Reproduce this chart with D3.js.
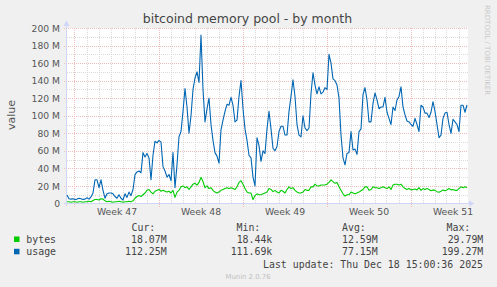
<!DOCTYPE html>
<html><head><meta charset="utf-8">
<script src="https://cdn.jsdelivr.net/npm/d3@7"></script>
<style>
html,body{margin:0;padding:0;background:#F0F0F0;}
svg{display:block;}
</style></head>
<body>
<script>
// ---- data (values in millions) ----
const title = "bitcoind memory pool - by month";
const yAxisLabel = "value";
const startTimeUTC = Date.UTC(2025, 10, 16, 9, 0); // first sample
const stepHours = 4;
const seriesNames = ["bytes", "usage"];
const seriesColors = ["#00CC00", "#0066B3"];
const bytes = [2,2,1.5,2,2,1.5,2,2,1.5,2,2,2.5,2,3.5,4.5,4.5,4,5.5,5,3,
  2,2.5,2,1.5,2,2,2.5,2,1.5,2,2,2.5,2,3,6,8,9,8,10,12,
  15,16,13,11,14,15,16,14,15,14,13,14,12,15,7,13,15,19,20,18,
  19,16,19,22,23,21,24,29.8,25,18,20,17,18,15,13,12,13,15,16,17,
  18,17,18,17,16,19,24,26,22,17,13,12,12,4.5,9,11,10,10,11,12,
  13,17,16,13.5,15,13,12,15,14,12,16,19,17,18,15,13,12,12,13,16,
  15,15,19,19,22,20,20,21,21,21,22,24,27,25,23,24,19,15,11,8.5,
  10,10,13,12,11,12,13,14.5,16,19,19,15,16,19,18,18,17,18,19,18,
  17,19,16,21,22,22,21,22,19,17,16,17,15.5,16,16.5,15.5,18,15,17,16,
  17,16,14.5,15.5,15,13.5,12.8,14,15.5,14.5,15.5,17,15.5,16,15,15,17,19,18,
  19,18.07];
const usage = [9.7,5.5,5,5.5,4.5,5,6,5.5,4.5,5,6.5,5,7.5,12,27,27,18,27,15,6,
  11,12,12,11,8,6,10,6,4,11,7,13,9,16,33,36,37,35,58,53,
  57,52,27,55,71,69,72,70,42,37,30,33,26,58,18,44,76,82,105,131,
  110,80,100,130,143,150,138,192,130,93,108,120,90,72,58,54,46,84,95,105,
  113,112,121,112,93,95,122,140,108,85,72,55,52,30,20,75,66,48,60,57,
  85,105,85,63,60,65,82,88,88,78,78,105,122,141,122,90,78,76,100,86,
  83,86,125,149,135,125,133,125,127,132,130,170,160,142,140,135,120,78,52,44,
  57,58,82,61,62,56,82,85,124,132,118,93,93,114,126,118,108,110,110,121,
  104,97,90,110,106,118,122,133,110,101,94,93,90,88,97,90,82,112,110,103,
  103,98,104,116,105,90,75,78,97,103,104,90,80,96,93,90,82,112,112,104,
  112.25];
const statHeaders = ["Cur:", "Min:", "Avg:", "Max:"];
const bytesStats = ["18.07M", "18.44k", "12.59M", "29.79M"];
const usageStats = ["112.25M", "111.69k", "77.15M", "199.27M"];
const lastUpdate = "Last update: Thu Dec 18 15:00:36 2025";
const footer = "Munin 2.0.76";
const sideText = "RRDTOOL / TOBI OETIKER";
const yMaxM = 200;

// ---- drawing ----
const W = 497, H = 287;
const svg = d3.select("body").append("svg").attr("width", W).attr("height", H);
const sans = "'DejaVu Sans', sans-serif";
const mono = "'DejaVu Sans Mono', monospace";

const tEnd = startTimeUTC + (usage.length - 1) * stepHours * 3600e3;
const x = d3.scaleUtc().domain([new Date(startTimeUTC), new Date(tEnd)]).range([67, 467]);
const y = d3.scaleLinear().domain([0, yMaxM]).range([203.5, 28]);
const pts = (arr) => arr.map((v, i) => ({t: new Date(startTimeUTC + i * stepHours * 3600e3), v}));

// plot background
svg.append("rect").attr("x", 67).attr("y", 28).attr("width", 401).attr("height", 175.5).attr("fill", "#FFFFFF");

const grid = svg.append("g");
const minorC = "#DADADA", majorC = "#F0BDBD";
// minor horizontal
d3.range(10, yMaxM + 1, 20).forEach(v => {
  grid.append("line").attr("x1", 67).attr("x2", 468).attr("y1", Math.round(y(v)) + 0.5).attr("y2", Math.round(y(v)) + 0.5)
    .attr("stroke", minorC).attr("stroke-dasharray", "1,1");
});
// minor vertical (days)
const days = d3.utcDay.range(x.domain()[0], x.domain()[1]);
days.forEach(d => {
  if (d.getUTCDay() === 1) return;
  const px = Math.round(x(d)) + 0.5;
  grid.append("line").attr("x1", px).attr("x2", px).attr("y1", 28).attr("y2", 203.5)
    .attr("stroke", minorC).attr("stroke-dasharray", "1,1");
});
// major horizontal
d3.range(20, yMaxM + 1, 20).forEach(v => {
  grid.append("line").attr("x1", 64).attr("x2", 468).attr("y1", Math.round(y(v)) + 0.5).attr("y2", Math.round(y(v)) + 0.5)
    .attr("stroke", majorC).attr("stroke-dasharray", "1,1");
});
// major vertical (weeks)
const weeks = d3.utcMonday.range(x.domain()[0], x.domain()[1]);
weeks.forEach(d => {
  const px = Math.round(x(d)) + 0.5;
  grid.append("line").attr("x1", px).attr("x2", px).attr("y1", 28).attr("y2", 207)
    .attr("stroke", majorC).attr("stroke-dasharray", "1,1");
});

// axes lines + arrows
const axc = "#CFD6F8";
svg.append("line").attr("x1", 66.5).attr("x2", 66.5).attr("y1", 206).attr("y2", 24).attr("stroke", axc);
svg.append("path").attr("d", "M63.5,26 L66.5,20.5 L69.5,26 Z").attr("fill", axc);
svg.append("line").attr("x1", 64).attr("x2", 470).attr("y1", 203.5).attr("y2", 203.5).attr("stroke", axc);
svg.append("path").attr("d", "M469,200.5 L474.5,203.5 L469,206.5 Z").attr("fill", axc);

// y axis labels
const yAxis = d3.axisLeft(y).tickValues(d3.range(0, yMaxM + 1, 20)).tickSize(0).tickPadding(0)
  .tickFormat(v => v === 0 ? "0" : v + " M");
const yg = svg.append("g").attr("transform", "translate(60,0)").call(yAxis);
yg.select(".domain").remove();
yg.selectAll("text").attr("font-family", sans).attr("font-size", 9.2).attr("fill", "#555555").attr("dy", "0.34em");

// x axis week labels
const xAxis = d3.axisBottom(x).tickValues(weeks.map(d => new Date(+d + 3.5 * 864e5))).tickSize(0).tickPadding(0)
  .tickFormat(d => "Week " + d3.utcFormat("%V")(d));
const xg = svg.append("g").attr("transform", "translate(0,208)").call(xAxis);
xg.select(".domain").remove();
xg.selectAll("text").attr("font-family", sans).attr("font-size", 9.3).attr("fill", "#555555").attr("dy", "0.75em");

// lines
const line = d3.line().x(d => x(d.t)).y(d => y(d.v));
[bytes, usage].forEach((arr, k) => {
  svg.append("path").datum(pts(arr)).attr("d", line).attr("fill", "none")
    .attr("stroke", seriesColors[k]).attr("stroke-width", 1.1).attr("stroke-linejoin", "round");
});

// title
svg.append("text").attr("x", 247.5).attr("y", 23).attr("text-anchor", "middle")
  .attr("font-family", sans).attr("font-size", 12.5).attr("fill", "#444444").text(title);
// y label
svg.append("text").attr("transform", "translate(14.5,115) rotate(-90)").attr("text-anchor", "middle")
  .attr("font-family", sans).attr("font-size", 11).attr("fill", "#555555").text(yAxisLabel);
// side text
svg.append("text").attr("transform", "translate(485,5) rotate(90)").attr("text-anchor", "start")
  .attr("font-family", sans).attr("font-size", 7).attr("fill", "#C8C8C8").text(sideText);

// legend
const headerX = [131.5, 236.5, 342, 446.5];
const valX = [166.7, 272.3, 377.7, 483.3];
statHeaders.forEach((h, i) => {
  svg.append("text").attr("x", headerX[i]).attr("y", 231).attr("font-family", mono).attr("font-size", 9.9)
    .attr("fill", "#444444").text(h);
});
[bytesStats, usageStats].forEach((st, k) => {
  const yy = 243 + k * 12.3;
  svg.append("rect").attr("x", 14).attr("y", yy - 6.5).attr("width", 5.5).attr("height", 5.5).attr("fill", seriesColors[k]);
  svg.append("text").attr("x", 26.3).attr("y", yy).attr("font-family", mono).attr("font-size", 9.9)
    .attr("fill", "#444444").text(seriesNames[k]);
  st.forEach((s, i) => {
    svg.append("text").attr("x", valX[i]).attr("y", yy).attr("text-anchor", "end").attr("font-family", mono)
      .attr("font-size", 9.9).attr("fill", "#444444").text(s);
  });
});
svg.append("text").attr("x", 483).attr("y", 267.5).attr("text-anchor", "end").attr("font-family", mono)
  .attr("font-size", 9.9).attr("fill", "#444444").text(lastUpdate);
svg.append("text").attr("x", 248).attr("y", 279).attr("text-anchor", "middle").attr("font-family", sans)
  .attr("font-size", 6.9).attr("fill", "#C0C0C0").text(footer);
</script>
</body></html>
